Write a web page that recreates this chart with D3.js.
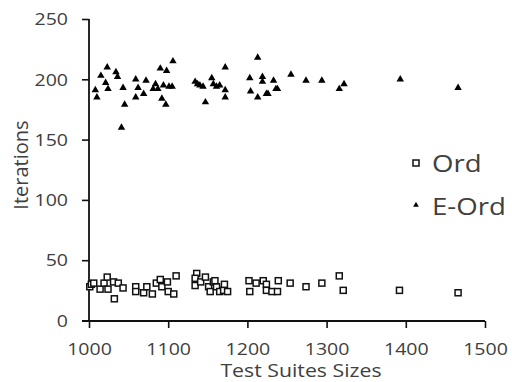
<!DOCTYPE html>
<html><head><meta charset="utf-8">
<script src="https://cdn.jsdelivr.net/npm/d3@7"></script>
<style>html,body{margin:0;padding:0;background:#fff;}svg{display:block;}</style>
</head><body>
<script>
const xTicks = [1000, 1100, 1200, 1300, 1400, 1500];
const yTicks = [0, 50, 100, 150, 200, 250];
const ordSizes = [1001,1003,1006,1014,1019,1023,1024,1031,1032,1037,1043,1059,1059,1069,1073,1080,1085,1090,1092,1099,1100,1107,1110,1136,1134,1134,1141,1147,1151,1157,1153,1161,1159,1165,1170,1171,1175,1202,1203,1211,1220,1224,1224,1231,1238,1239,1254,1274,1294,1316,1321,1392,1466];
const ordIterations = [28,30,31,26,31,36,26,32,18,31,27,28,24,23,28,22,31,34,28,32,24,22,37,39,35,29,32,36,28,32,24,28,33,24,25,30,24,33,24,31,33,30,25,24,24,33,31,28,31,37,25,25,23];
const eOrdSizes = [1008,1010,1015,1023,1021,1024,1034,1036,1043,1045,1041,1059,1062,1059,1069,1072,1081,1084,1087,1090,1098,1106,1094,1105,1101,1092,1097,1134,1137,1140,1144,1147,1155,1157,1161,1165,1172,1172,1172,1213,1203,1219,1219,1233,1236,1204,1213,1224,1226,1238,1255,1274,1294,1316,1322,1393,1466];
const eOrdIterations = [191,185,203,210,197,192,206,202,193,179,160,200,193,185,188,199,192,196,192,209,207,215,195,194,194,184,179,198,196,195,194,181,201,196,194,195,210,191,185,218,201,202,198,199,192,190,185,188,188,192,204,199,199,192,196,200,193];
const seriesNames = ["Ord", "E-Ord"];

const W = 512, H = 382, SX = 1.15;
const svg = d3.select("body").append("svg").attr("width", W).attr("height", H);
const x = d3.scaleLinear().domain([1000, 1500]).range([89, 485]);
const y = d3.scaleLinear().domain([0, 250]).range([320.5, 19]);
const textColor = "#404040";
const font = "'Open Sans', sans-serif";

// X axis
const gx = svg.append("g").attr("transform", "translate(0,321)")
  .call(d3.axisBottom(x).tickValues(xTicks).tickSize(7).tickSizeOuter(0).tickFormat(d3.format("d")));
gx.select(".domain").attr("stroke", "#111").attr("stroke-width", 1.8).attr("d", "M82,0H485");
gx.selectAll(".tick line").attr("stroke", "#111").attr("stroke-width", 1.6);
gx.selectAll(".tick text").attr("fill", textColor).attr("font-family", font).attr("font-size", 17)
  .attr("y", 0).attr("dy", 0).attr("transform", `translate(0,34) scale(${SX},1)`);

// Y axis
const gy = svg.append("g").attr("transform", "translate(89,0)")
  .call(d3.axisLeft(y).tickValues(yTicks).tickSize(7).tickSizeOuter(0));
gy.select(".domain").attr("stroke", "#111").attr("stroke-width", 1.8).attr("d", `M0,${y(250)}V322`);
gy.selectAll(".tick line").attr("stroke", "#111").attr("stroke-width", 1.6);
gy.selectAll(".tick text").attr("fill", textColor).attr("font-family", font).attr("font-size", 17)
  .attr("x", 0).attr("dy", "0.34em").attr("transform", `translate(-21,0) scale(${SX},1)`);

// Axis titles
svg.append("text").attr("transform", `translate(301,377) scale(${SX},1)`)
  .attr("text-anchor", "middle").attr("fill", textColor).attr("font-family", font).attr("font-size", 18.5)
  .text("Test Suites Sizes");
svg.append("text").attr("transform", "translate(28,165) rotate(-90)")
  .attr("text-anchor", "middle").attr("fill", textColor).attr("font-family", font).attr("font-size", 20)
  .text("Iterations");

// Data
const tri = d3.symbol().type(d3.symbolTriangle).size(24);
svg.append("g").selectAll("path").data(d3.range(eOrdSizes.length)).join("path")
  .attr("d", tri).attr("fill", "#000")
  .attr("transform", i => `translate(${x(eOrdSizes[i])},${y(eOrdIterations[i])})`);
svg.append("g").selectAll("rect").data(d3.range(ordSizes.length)).join("rect")
  .attr("x", i => x(ordSizes[i]) - 3).attr("y", i => y(ordIterations[i]) - 3)
  .attr("width", 6).attr("height", 6).attr("fill", "#fff").attr("stroke", "#111").attr("stroke-width", 1.5);

// Legend
const lg = svg.append("g");
lg.append("rect").attr("x", 413).attr("y", 160).attr("width", 6).attr("height", 6)
  .attr("fill", "#fff").attr("stroke", "#111").attr("stroke-width", 1.5);
lg.append("path").attr("d", d3.symbol().type(d3.symbolTriangle).size(14))
  .attr("fill", "#000").attr("transform", "translate(416,205)");
lg.selectAll("text.leg").data(seriesNames).join("text").attr("class", "leg")
  .attr("transform", (d, i) => `translate(432,${172 + i * 43}) scale(${SX},1)`)
  .attr("fill", textColor).attr("font-family", font).attr("font-size", 24)
  .text(d => d);
</script>
</body></html>
